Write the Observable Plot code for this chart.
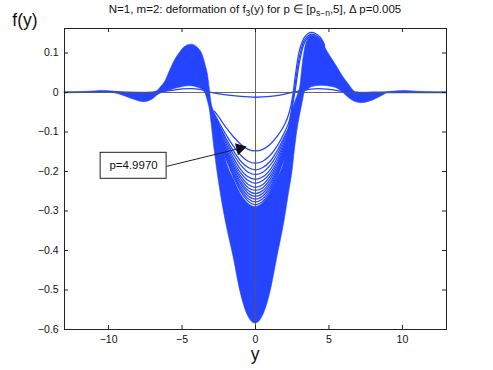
<!DOCTYPE html>
<html><head><meta charset="utf-8">
<script src="https://cdn.jsdelivr.net/npm/d3@7"></script>
<script src="https://cdn.jsdelivr.net/npm/@observablehq/plot@0.6"></script>
<style>body{margin:0;background:#fff} svg{display:block}</style>
</head><body><div id="chart"></div>
<script>
// ---- axes ----
const xDomain = [-13, 13];
const yDomain = [-0.6, 0.162];
const xTicks = [-10, -5, 0, 5, 10];
const yTicks = [0.1, 0, -0.1, -0.2, -0.3, -0.4, -0.5, -0.6];

// ---- swept (solid) region of the curve family: lower / upper envelope ----
const bandX  = [-13, -11.5, -10.3, -9.6, -9.0, -8.3, -7.6, -7.0, -6.7, -6.4, -6.1, -5.8, -5.5, -5.15, -4.8, -4.35, -3.9, -3.6, -3.4, -3.22, -3.1, -3.0, -2.8, -2.5, -2.0, -1.5, -1.0, -0.5, 0, 0.5, 1.0, 1.5, 2.0, 2.3, 2.5, 2.7, 2.9, 3.05, 3.24, 3.35, 3.51, 3.87, 4.49, 5.05, 5.62, 5.96, 6.3, 6.87, 7.21, 8.0, 8.68, 9.1, 10.1, 11.6, 13];
const bandLo = [0, -0.0005, 0.0, -0.002, -0.008, -0.018, -0.0245, -0.018, -0.008, -0.002, 0.002, 0.005, 0.009, 0.012, 0.015, 0.016, 0.012, 0.007, -0.003, -0.025, -0.045, -0.075, -0.14, -0.223, -0.33, -0.415, -0.508, -0.566, -0.585, -0.566, -0.508, -0.415, -0.32, -0.25, -0.205, -0.14, -0.085, -0.055, -0.02, 0.0, 0.005, 0.014, 0.017, 0.015, 0.009, 0.0, -0.012, -0.025, -0.027, -0.020, -0.0076, 0.0, 0.0, 0.0, 0];
const bandHi = [0, 0.0015, 0.004, 0.002, 0.0, 0.0, -0.0005, 0.0, 0.003, 0.015, 0.030, 0.056, 0.080, 0.100, 0.115, 0.121, 0.112, 0.095, 0.070, 0.040, 0.005, -0.025, -0.05, -0.075, -0.172, -0.218, -0.257, -0.281, -0.29, -0.281, -0.257, -0.218, -0.165, -0.085, -0.05, -0.025, -0.005, 0.015, 0.078, 0.105, 0.128, 0.143, 0.128, 0.094, 0.061, 0.040, 0.023, 0.0, -0.001, 0.0, 0.0, 0.001, 0.004, 0.0005, 0];

// ---- separated curves near p = 5 (central dip) ----
const uX = [-2.8, -2.5, -2.0, -1.5, -1.0, -0.5, 0, 0.5, 1.0, 1.5, 2.0, 2.3];
const uCurves = [
  [-0.047, -0.062, -0.089, -0.112, -0.131, -0.144, -0.148, -0.144, -0.131, -0.110, -0.080, -0.050],
  [-0.056, -0.075, -0.107, -0.136, -0.159, -0.174, -0.179, -0.174, -0.159, -0.134, -0.099, -0.072],
  [-0.061, -0.081, -0.117, -0.148, -0.174, -0.190, -0.196, -0.190, -0.174, -0.146, -0.109, -0.084],
  [-0.063, -0.085, -0.123, -0.157, -0.184, -0.202, -0.208, -0.202, -0.184, -0.155, -0.115, -0.089],
  [-0.067, -0.090, -0.130, -0.166, -0.195, -0.2135, -0.220, -0.2135, -0.195, -0.164, -0.122, -0.094],
  [-0.070, -0.094, -0.136, -0.174, -0.204, -0.223, -0.230, -0.223, -0.204, -0.172, -0.128, -0.099],
  [-0.072, -0.097, -0.142, -0.181, -0.212, -0.233, -0.240, -0.233, -0.212, -0.179, -0.134, -0.103],
  [-0.074, -0.100, -0.146, -0.187, -0.219, -0.241, -0.248, -0.241, -0.219, -0.185, -0.138, -0.107],
  [-0.076, -0.103, -0.151, -0.193, -0.226, -0.248, -0.256, -0.248, -0.226, -0.191, -0.143, -0.111],
  [-0.078, -0.106, -0.155, -0.198, -0.232, -0.255, -0.263, -0.255, -0.232, -0.196, -0.147, -0.114],
  [-0.080, -0.108, -0.159, -0.203, -0.239, -0.262, -0.270, -0.262, -0.239, -0.201, -0.151, -0.117],
  [-0.082, -0.111, -0.163, -0.208, -0.245, -0.269, -0.277, -0.269, -0.245, -0.206, -0.155, -0.120],
  [-0.084, -0.114, -0.167, -0.213, -0.251, -0.2755, -0.284, -0.2755, -0.251, -0.211, -0.159, -0.123]
];
// right-lobe continuation of the three top curves
const lobeX = [2.56, 2.7, 3.0, 3.35, 3.81, 4.37, 4.7];
const lobeCurves = [
  [-0.003, 0.040, 0.108, 0.141, 0.152, 0.141, 0.120],
  [-0.015, 0.020, 0.092, 0.134, 0.1475, 0.137, 0.118],
  [-0.025, 0.005, 0.078, 0.127, 0.145, 0.134, 0.116]
];

// ---- nearly flat curve ----
const flatX = [-13, -11, -10, -9, -8, -7, -6, -5, -4.4, -3.8, -3.1, -2, -1, 0, 1, 2, 2.45, 3, 3.6, 4.3, 5, 6, 7, 8, 10, 13];
const flatY = [0.0, 0.001, 0.002, 0.001, -0.001, 0.0, 0.004, 0.009, 0.010, 0.008, 0.001, -0.006, -0.010, -0.012, -0.010, -0.004, 0.0, 0.004, 0.008, 0.010, 0.008, 0.003, 0.0, 0.0, 0.0, 0.0];

// ---- annotation ----
const noteText = "p=4.9970";
const noteBoxX = [-10.54, -6.05];
const noteBoxY = [-0.2185, -0.1527];
const noteTextXY = [-8.3, -0.1856];
const noteArrowFrom = [-6.05, -0.187];
const noteArrowTo = [-1.06, -0.1415];

const blue = "#2444ff";
const font = "'Liberation Sans', Arial, Helvetica, sans-serif";

const band = bandX.map((x, i) => ({x, lo: bandLo[i], hi: bandHi[i]}));
const uRows = [];
uCurves.forEach((c, k) => {
  c.forEach((y, i) => uRows.push({x: uX[i], y, k}));
  if (k < lobeCurves.length) lobeCurves[k].forEach((y, i) => uRows.push({x: lobeX[i], y, k}));
});
const flatRows = flatX.map((x, i) => ({x, y: flatY[i]}));
const minus = d => (d < 0 ? "\u2212" : "") + Math.abs(d);

const W = 493, H = 370;
const mL = 64, mR = 47, mT = 28, mB = 41;
const fh = H - mT - mB, fw = W - mL - mR;

const svg = Plot.plot({
  width: W, height: H,
  marginLeft: mL, marginRight: mR, marginTop: mT, marginBottom: mB,
  style: {fontFamily: font, fontSize: "10.5px", background: "#fff", color: "#111"},
  x: {domain: xDomain},
  y: {domain: yDomain},
  marks: [
    Plot.areaY(band, {x: "x", y1: "lo", y2: "hi", fill: blue, stroke: blue, strokeWidth: 0.6, curve: "monotone-x"}),
    Plot.line(uRows, {x: "x", y: "y", z: "k", stroke: blue, strokeWidth: 1.25, curve: "catmull-rom"}),
    Plot.line(flatRows, {x: "x", y: "y", stroke: blue, strokeWidth: 1.3, curve: "catmull-rom"}),
    Plot.ruleX([0], {stroke: "#555", strokeWidth: 0.9}),
    Plot.ruleY([0], {stroke: "#555", strokeWidth: 0.9}),
    Plot.ruleX(xTicks, {insetTop: fh - 4, stroke: "#222"}),
    Plot.ruleX(xTicks, {insetBottom: fh - 4, stroke: "#222"}),
    Plot.ruleY(yTicks, {insetLeft: fw - 4, stroke: "#222"}),
    Plot.ruleY(yTicks, {insetRight: fw - 4, stroke: "#222"}),
    Plot.frame({stroke: "#222"}),
    Plot.axisX({ticks: xTicks, tickSize: 0, tickPadding: 6, tickFormat: minus, label: null, fontSize: 10.5}),
    Plot.axisY({ticks: yTicks, tickSize: 0, tickPadding: 6, tickFormat: minus, label: null, fontSize: 10.5}),
    // annotation
    Plot.link([0], {x1: () => noteArrowFrom[0], y1: () => noteArrowFrom[1], x2: () => noteArrowTo[0], y2: () => noteArrowTo[1], stroke: "#222", strokeWidth: 1}),
    Plot.dot([0], {x: () => noteArrowTo[0], y: () => noteArrowTo[1], symbol: "triangle", r: 3.6, fill: "#111", stroke: "#111", rotate: 76}),
    Plot.rect([0], {x1: () => noteBoxX[0], x2: () => noteBoxX[1], y1: () => noteBoxY[0], y2: () => noteBoxY[1], fill: "white", stroke: "#222", strokeWidth: 1}),
    Plot.text([noteText], {x: () => noteTextXY[0], y: () => noteTextXY[1], text: d => d, fontSize: 11.5, fill: "#111"})
  ]
});

const sx = svg.scale("x");
const s = d3.select(svg);
// title
const t = s.append("text").attr("x", sx.apply(0)).attr("y", 13).attr("text-anchor", "middle")
  .attr("font-size", 11.5).attr("font-family", font).attr("fill", "#111");
t.append("tspan").text("N=1, m=2: deformation of f");
t.append("tspan").attr("dy", 3).attr("font-size", 8.5).text("3");
t.append("tspan").attr("dy", -3).text("(y) for p \u2208 [p");
t.append("tspan").attr("dy", 3).attr("font-size", 8.5).text("s\u2212n");
t.append("tspan").attr("dy", -3).text(",5], \u0394 p=0.005");
// y label (top-left)
s.append("text").attr("x", 25).attr("y", 26).attr("font-size", 17.5).attr("font-family", font).attr("fill", "#111").text("f(y)");
// x label
s.append("text").attr("x", sx.apply(0)).attr("y", 360).attr("text-anchor", "middle").attr("font-size", 17.5).attr("font-family", font).attr("fill", "#111").text("y");

document.getElementById("chart").appendChild(svg);
</script></body></html>
